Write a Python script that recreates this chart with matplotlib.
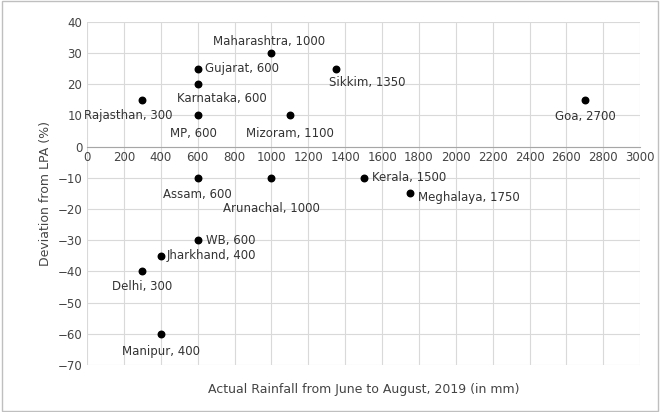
import matplotlib.pyplot as plt
from matplotlib.patches import Rectangle

states = ['Maharashtra', 'Gujarat', 'Karnataka', 'Sikkim', 'Rajasthan', 'MP', 'Mizoram', 'Goa',
          'Assam', 'Arunachal', 'Kerala', 'Meghalaya', 'WB', 'Jharkhand', 'Delhi', 'Manipur']
rainfall = [1000, 600, 600, 1350, 300, 600, 1100, 2700, 600, 1000, 1500, 1750, 600, 400, 300, 400]
deviation = [30, 25, 20, 25, 15, 10, 10, 15, -10, -10, -10, -15, -30, -35, -40, -60]

# label offsets (points) and alignment
offs = [(-2, 8, 'center'), (5, 0, 'left'), (-15, -10, 'left'), (-5, -10, 'left'),
        (-10, -11, 'center'), (-20, -13, 'left'), (0, -13, 'center'), (0, -12, 'center'),
        (0, -12, 'center'), (0, -22, 'center'), (6, 0, 'left'), (6, -3, 'left'),
        (6, 0, 'left'), (4, 0, 'left'), (0, -11, 'center'), (0, -13, 'center')]

fig = plt.figure(figsize=(6.6, 4.12), dpi=100)
ax = fig.add_axes([0.132, 0.114, 0.838, 0.833])
ax.scatter(rainfall, deviation, s=22, color='black', zorder=3)
for s, x, y, (dx, dy, ha) in zip(states, rainfall, deviation, offs):
    ax.annotate(f'{s}, {x}', (x, y), xytext=(dx, dy), textcoords='offset points',
                ha=ha, va='center', fontsize=8.5, color='#333333')

ax.set_xlim(0, 3000)
ax.set_ylim(-70, 40)
ax.set_xticks(range(0, 3001, 200))
ax.set_yticks(range(-70, 41, 10))
ax.grid(color='#d9d9d9', linewidth=0.8)
ax.set_axisbelow(True)
for sp in ax.spines.values():
    sp.set_visible(False)
ax.spines['bottom'].set_visible(True)
ax.spines['bottom'].set_position(('data', 0))
ax.spines['bottom'].set_color('#a6a6a6')
ax.tick_params(length=0, labelsize=8.5, colors='#444444')
fig.text(0.551, 0.045, 'Actual Rainfall from June to August, 2019 (in mm)', ha='center',
         fontsize=9, color='#444444')
ax.set_ylabel('Deviation from LPA (%)', fontsize=9, color='#444444')
fig.patches.append(Rectangle((0.003, 0.003), 0.994, 0.994, transform=fig.transFigure,
                             fill=False, edgecolor='#bfbfbf', linewidth=1))
plt.savefig('out.png')
